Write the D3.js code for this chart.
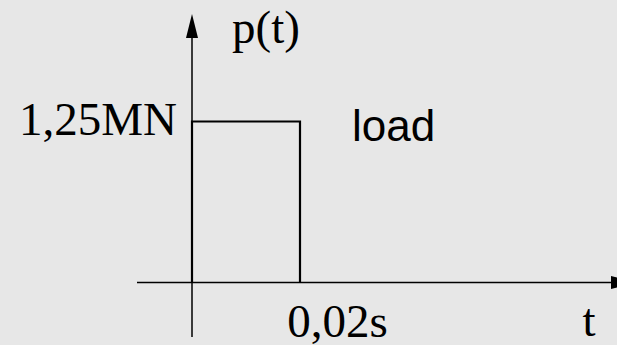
<!DOCTYPE html>
<html><head><meta charset="utf-8">
<script src="https://cdn.jsdelivr.net/npm/d3@7"></script>
<style>html,body{margin:0;padding:0;background:#e7e7e7;overflow:hidden}</style>
</head><body>
<script>
// Data
const loadTimes = [0, 0, 0.02, 0.02];      // s
const loadValues = [0, 1.25, 1.25, 0];     // MN
const xTickValues = [0.02];
const xTickLabels = ["0,02s"];
const yTickValues = [1.25];
const yTickLabels = ["1,25MN"];
const xAxisTitle = "t";
const yAxisTitle = "p(t)";
const seriesLabel = "load";

const W = 617, H = 345;
const svg = d3.select("body").append("svg").attr("width", W).attr("height", H);
svg.append("rect").attr("width", W).attr("height", H).attr("fill", "#e7e7e7");

const x = d3.scaleLinear().domain([0, 0.02]).range([192, 300]);
const y = d3.scaleLinear().domain([0, 1.25]).range([282.5, 121.5]);

const x0 = x(0), y0 = y(0);
const serif = "'Liberation Serif','Times New Roman',serif";

// axes
svg.append("line").attr("x1", 137).attr("x2", 612).attr("y1", y0).attr("y2", y0)
  .attr("stroke", "#000").attr("stroke-width", 1.5);
svg.append("path").attr("d", `M611,${y0-6.5}L636,${y0}L611,${y0+6.5}Z`).attr("fill", "#000");
svg.append("line").attr("x1", x0).attr("x2", x0).attr("y1", 37).attr("y2", 337)
  .attr("stroke", "#000").attr("stroke-width", 1.5);
svg.append("path").attr("d", `M${x0-6},38L${x0},14L${x0+6},38Z`).attr("fill", "#000");

// load pulse
const line = d3.line().x((d, i) => x(loadTimes[i])).y(d => y(d));
svg.append("path").datum(loadValues).attr("d", line)
  .attr("fill", "none").attr("stroke", "#000").attr("stroke-width", 2.2)
  .attr("stroke-linejoin", "miter");

// tick labels
svg.selectAll(".yl").data(yTickValues).enter().append("text")
  .attr("x", 177).attr("y", d => y(d) + 13.5)
  .attr("text-anchor", "end").attr("font-family", serif).attr("font-size", 47)
  .attr("fill", "#000").text((d, i) => yTickLabels[i]);
svg.selectAll(".xl").data(xTickValues).enter().append("text")
  .attr("x", d => x(d) + 37.5).attr("y", 336.5)
  .attr("text-anchor", "middle").attr("font-family", serif).attr("font-size", 47)
  .attr("fill", "#000").text((d, i) => xTickLabels[i]);

// titles
svg.append("text").attr("x", 589).attr("y", 336).attr("text-anchor", "middle")
  .attr("font-family", serif).attr("font-size", 47).attr("fill", "#000").text(xAxisTitle);
svg.append("text").attr("x", 232).attr("y", 43)
  .attr("font-family", serif).attr("font-size", 47).attr("fill", "#000").text(yAxisTitle);
svg.append("text").attr("x", 352).attr("y", 140.5)
  .attr("font-family", "'Liberation Sans',Arial,sans-serif").attr("font-size", 44)
  .attr("fill", "#000").text(seriesLabel);
</script>
</body></html>
